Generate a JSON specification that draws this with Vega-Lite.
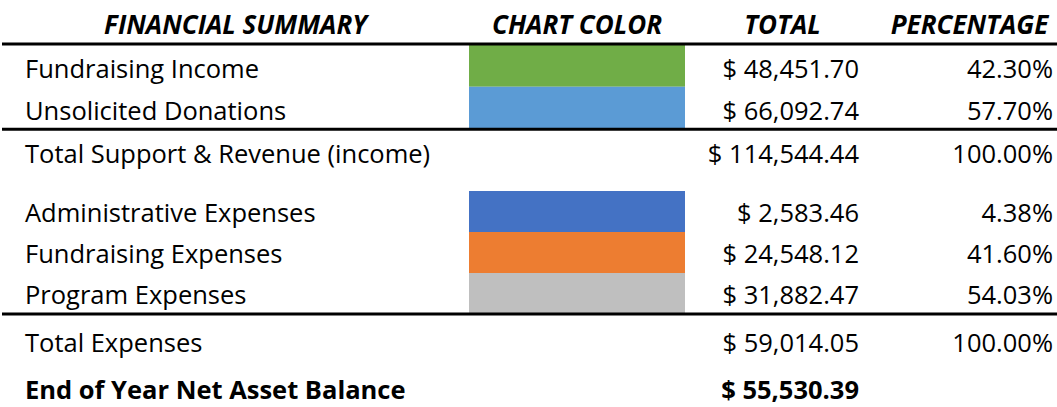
{
  "$schema": "https://vega.github.io/schema/vega-lite/v6.json",
  "background": "white",
  "padding": {"left": 0, "right": 0, "top": 12, "bottom": 0},
  "autosize": {"type": "pad"},
  "data": {"values": [
    {"item": "Fundraising Income", "section": "income", "kind": "item", "total": 48451.70, "pct": 0.4230},
    {"item": "Unsolicited Donations", "section": "income", "kind": "item", "total": 66092.74, "pct": 0.5770},
    {"item": "Total Support & Revenue (income)", "section": "income", "kind": "total", "total": 114544.44, "pct": 1.0},
    {"item": "Administrative Expenses", "section": "expenses", "kind": "item", "total": 2583.46, "pct": 0.0438},
    {"item": "Fundraising Expenses", "section": "expenses", "kind": "item", "total": 24548.12, "pct": 0.4160},
    {"item": "Program Expenses", "section": "expenses", "kind": "item", "total": 31882.47, "pct": 0.5403},
    {"item": "Total Expenses", "section": "summary", "kind": "total", "total": 59014.05, "pct": 1.0},
    {"item": "End of Year Net Asset Balance", "section": "summary", "kind": "net", "total": 55530.39, "pct": null}
  ]},
  "config": {
    "view": {"stroke": null},
    "locale": {"number": {"decimal": ".", "thousands": ",", "grouping": [3], "currency": ["$ ", ""]}},
    "text": {"font": "Open Sans", "fontSize": 25.5, "color": "#000000"},
    "title": {"font": "Open Sans", "fontSize": 26, "fontWeight": "bold", "fontStyle": "italic", "color": "#000000", "anchor": "middle", "offset": 4, "frame": "group"},
    "rule": {"color": "#000000", "strokeWidth": 3}
  },
  "columns": 4,
  "spacing": 0,
  "align": "each",
  "bounds": "flush",
  "concat": [
    {
      "width": 467, "height": 128,
      "title": "FINANCIAL SUMMARY",
      "transform": [{"filter": "datum.section == 'income'"}],
      "layer": [
        {"mark": {"type": "rule"}, "encoding": {"y": {"field": "item", "type": "nominal", "sort": null, "axis": null, "bandPosition": 0, "scale": {"type": "band", "paddingInner": 0, "paddingOuter": 0}}, "opacity": {"condition": {"test": "datum.kind == 'total' || datum.item == 'Fundraising Income'", "value": 1}, "value": 0}}},
        {"mark": {"type": "text", "align": "left", "baseline": "alphabetic", "x": 0, "dx": 23, "dy": -9}, "encoding": {"y": {"field": "item", "type": "nominal", "sort": null, "axis": null, "bandPosition": 1}, "text": {"field": "item"}}}
      ]
    },
    {
      "width": 216, "height": 128,
      "title": "CHART COLOR",
      "transform": [{"filter": "datum.section == 'income'"}],
      "layer": [
        {"mark": {"type": "rect", "x": 0, "x2": "width"}, "encoding": {"y": {"field": "item", "type": "nominal", "sort": null, "axis": null, "scale": {"type": "band", "paddingInner": 0, "paddingOuter": 0}}, "color": {"field": "item", "type": "nominal", "legend": null, "scale": {"domain": ["Fundraising Income", "Unsolicited Donations", "Administrative Expenses", "Fundraising Expenses", "Program Expenses"], "range": ["#70AD47", "#5B9BD5", "#4472C4", "#ED7D31", "#BFBFBF"]}}, "opacity": {"condition": {"test": "datum.kind == 'item'", "value": 1}, "value": 0}}},
        {"mark": {"type": "rule"}, "encoding": {"y": {"field": "item", "type": "nominal", "sort": null, "axis": null, "bandPosition": 0}, "opacity": {"condition": {"test": "datum.kind == 'total' || datum.item == 'Fundraising Income'", "value": 1}, "value": 0}}}
      ]
    },
    {
      "width": 195, "height": 128,
      "title": "TOTAL",
      "transform": [{"filter": "datum.section == 'income'"}],
      "layer": [
        {"mark": {"type": "rule"}, "encoding": {"y": {"field": "item", "type": "nominal", "sort": null, "axis": null, "bandPosition": 0, "scale": {"type": "band", "paddingInner": 0, "paddingOuter": 0}}, "opacity": {"condition": {"test": "datum.kind == 'total' || datum.item == 'Fundraising Income'", "value": 1}, "value": 0}}},
        {"mark": {"type": "text", "align": "right", "baseline": "alphabetic", "x": "width", "dx": -21, "dy": -9}, "encoding": {"y": {"field": "item", "type": "nominal", "sort": null, "axis": null, "bandPosition": 1}, "text": {"field": "total", "type": "quantitative", "format": "$,.2f"}}}
      ]
    },
    {
      "width": 179, "height": 128,
      "title": "PERCENTAGE",
      "transform": [{"filter": "datum.section == 'income'"}],
      "layer": [
        {"mark": {"type": "rule"}, "encoding": {"y": {"field": "item", "type": "nominal", "sort": null, "axis": null, "bandPosition": 0, "scale": {"type": "band", "paddingInner": 0, "paddingOuter": 0}}, "opacity": {"condition": {"test": "datum.kind == 'total' || datum.item == 'Fundraising Income'", "value": 1}, "value": 0}}},
        {"mark": {"type": "text", "align": "right", "baseline": "alphabetic", "x": "width", "dx": -6, "dy": -9}, "encoding": {"y": {"field": "item", "type": "nominal", "sort": null, "axis": null, "bandPosition": 1}, "text": {"field": "pct", "type": "quantitative", "format": ".2%"}}}
      ]
    },
    {
      "width": 467, "height": 142,
      "transform": [{"filter": "datum.section == 'expenses'"}],
      "mark": {"type": "text", "align": "left", "baseline": "alphabetic", "x": 0, "dx": 23, "dy": -10},
      "encoding": {"y": {"field": "item", "type": "nominal", "sort": null, "axis": null, "bandPosition": 1, "scale": {"type": "band", "paddingInner": 0, "paddingOuter": 0.2317, "align": 1}}, "text": {"field": "item"}}
    },
    {
      "width": 216, "height": 142,
      "transform": [{"filter": "datum.section == 'expenses'"}],
      "mark": {"type": "rect", "x": 0, "x2": "width"},
      "encoding": {"y": {"field": "item", "type": "nominal", "sort": null, "axis": null, "scale": {"type": "band", "paddingInner": 0, "paddingOuter": 0.2317, "align": 1}}, "color": {"field": "item", "type": "nominal", "legend": null, "scale": {"domain": ["Fundraising Income", "Unsolicited Donations", "Administrative Expenses", "Fundraising Expenses", "Program Expenses"], "range": ["#70AD47", "#5B9BD5", "#4472C4", "#ED7D31", "#BFBFBF"]}}}
    },
    {
      "width": 195, "height": 142,
      "transform": [{"filter": "datum.section == 'expenses'"}],
      "mark": {"type": "text", "align": "right", "baseline": "alphabetic", "x": "width", "dx": -21, "dy": -10},
      "encoding": {"y": {"field": "item", "type": "nominal", "sort": null, "axis": null, "bandPosition": 1, "scale": {"type": "band", "paddingInner": 0, "paddingOuter": 0.2317, "align": 1}}, "text": {"field": "total", "type": "quantitative", "format": "$,.2f"}}
    },
    {
      "width": 179, "height": 142,
      "transform": [{"filter": "datum.section == 'expenses'"}],
      "mark": {"type": "text", "align": "right", "baseline": "alphabetic", "x": "width", "dx": -6, "dy": -10},
      "encoding": {"y": {"field": "item", "type": "nominal", "sort": null, "axis": null, "bandPosition": 1, "scale": {"type": "band", "paddingInner": 0, "paddingOuter": 0.2317, "align": 1}}, "text": {"field": "pct", "type": "quantitative", "format": ".2%"}}
    },
    {
      "width": 467, "height": 95,
      "transform": [{"filter": "datum.section == 'summary'"}],
      "layer": [
        {"mark": {"type": "rule"}, "encoding": {"y": {"field": "item", "type": "nominal", "sort": null, "axis": null, "bandPosition": 0, "scale": {"type": "band", "paddingInner": 0, "paddingOuter": 0}}, "opacity": {"condition": {"test": "datum.kind == 'total'", "value": 1}, "value": 0}}},
        {"mark": {"type": "text", "align": "left", "baseline": "alphabetic", "x": 0, "dx": 23, "dy": -10}, "encoding": {"y": {"field": "item", "type": "nominal", "sort": null, "axis": null, "bandPosition": 1}, "text": {"condition": {"test": "datum.kind == 'net'", "value": ""}, "field": "item"}}},
        {"mark": {"type": "text", "align": "left", "baseline": "alphabetic", "x": 0, "dx": 23, "dy": -10, "fontWeight": "bold"}, "encoding": {"y": {"field": "item", "type": "nominal", "sort": null, "axis": null, "bandPosition": 1}, "text": {"condition": {"test": "datum.kind != 'net'", "value": ""}, "field": "item"}}}
      ]
    },
    {
      "width": 216, "height": 95,
      "transform": [{"filter": "datum.section == 'summary'"}],
      "mark": {"type": "rule"},
      "encoding": {"y": {"field": "item", "type": "nominal", "sort": null, "axis": null, "bandPosition": 0, "scale": {"type": "band", "paddingInner": 0, "paddingOuter": 0}}, "opacity": {"condition": {"test": "datum.kind == 'total'", "value": 1}, "value": 0}}
    },
    {
      "width": 195, "height": 95,
      "transform": [{"filter": "datum.section == 'summary'"}],
      "layer": [
        {"mark": {"type": "rule"}, "encoding": {"y": {"field": "item", "type": "nominal", "sort": null, "axis": null, "bandPosition": 0, "scale": {"type": "band", "paddingInner": 0, "paddingOuter": 0}}, "opacity": {"condition": {"test": "datum.kind == 'total'", "value": 1}, "value": 0}}},
        {"mark": {"type": "text", "align": "right", "baseline": "alphabetic", "x": "width", "dx": -21, "dy": -10}, "encoding": {"y": {"field": "item", "type": "nominal", "sort": null, "axis": null, "bandPosition": 1}, "text": {"condition": {"test": "datum.kind == 'net'", "value": ""}, "field": "total", "type": "quantitative", "format": "$,.2f"}}},
        {"mark": {"type": "text", "align": "right", "baseline": "alphabetic", "x": "width", "dx": -21, "dy": -10, "fontWeight": "bold"}, "encoding": {"y": {"field": "item", "type": "nominal", "sort": null, "axis": null, "bandPosition": 1}, "text": {"condition": {"test": "datum.kind != 'net'", "value": ""}, "field": "total", "type": "quantitative", "format": "$,.2f"}}}
      ]
    },
    {
      "width": 179, "height": 95,
      "transform": [{"filter": "datum.section == 'summary'"}],
      "layer": [
        {"mark": {"type": "rule"}, "encoding": {"y": {"field": "item", "type": "nominal", "sort": null, "axis": null, "bandPosition": 0, "scale": {"type": "band", "paddingInner": 0, "paddingOuter": 0}}, "opacity": {"condition": {"test": "datum.kind == 'total'", "value": 1}, "value": 0}}},
        {"mark": {"type": "text", "align": "right", "baseline": "alphabetic", "x": "width", "dx": -6, "dy": -10}, "encoding": {"y": {"field": "item", "type": "nominal", "sort": null, "axis": null, "bandPosition": 1}, "text": {"condition": {"test": "datum.pct == null", "value": ""}, "field": "pct", "type": "quantitative", "format": ".2%"}}}
      ]
    }
  ]
}
